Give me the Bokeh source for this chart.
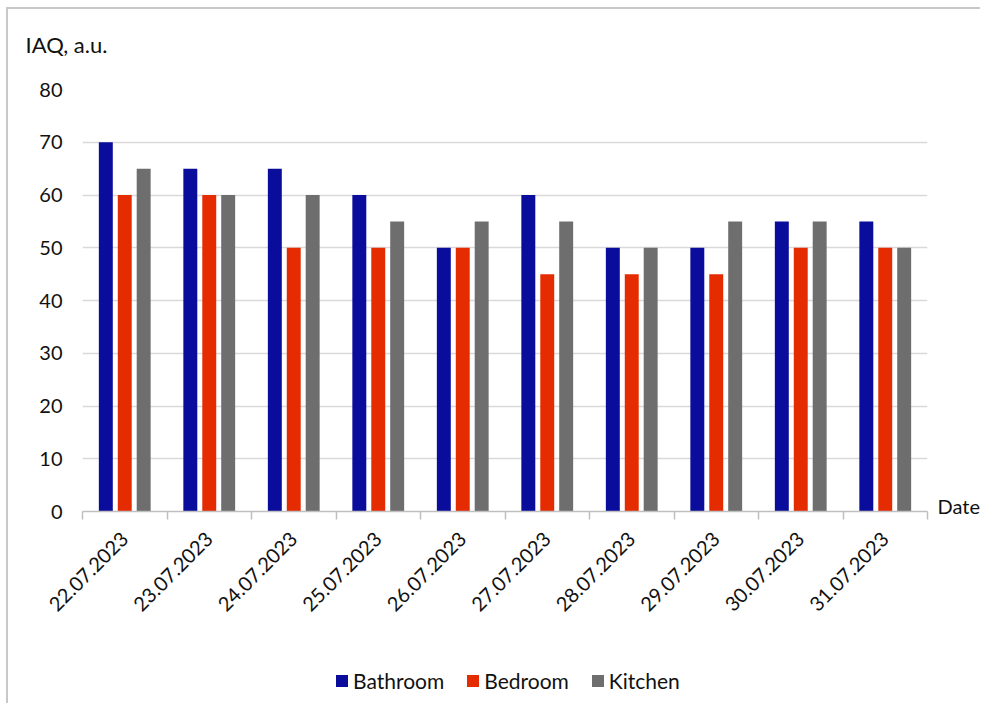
from bokeh.plotting import figure
from bokeh.layouts import column
from bokeh.models import (ColumnDataSource, Range1d, FixedTicker, LinearAxis,
                          Legend, LegendItem)
from bokeh.transform import dodge
from bokeh.embed import file_html
from bokeh.resources import INLINE

# Daily indoor air quality index per room
dates = ["22.07.2023", "23.07.2023", "24.07.2023", "25.07.2023", "26.07.2023",
         "27.07.2023", "28.07.2023", "29.07.2023", "30.07.2023", "31.07.2023"]
bathroom = [70, 65, 65, 60, 50, 60, 50, 50, 55, 55]
bedroom = [60, 60, 50, 50, 50, 45, 45, 45, 50, 50]
kitchen = [65, 60, 60, 55, 55, 55, 50, 55, 55, 50]
rooms = ["Bathroom", "Bedroom", "Kitchen"]
y_ticks = [0, 10, 20, 30, 40, 50, 60, 70, 80]
y_title = "IAQ, a.u."
x_title = "Date"

FONT = "Lato"
TEXT = "#111111"
COLORS = ["#0A0C9C", "#E52B00", "#6E6E6E"]
FIELDS = ["bathroom", "bedroom", "kitchen"]
OFFSETS = [-0.224, 0.0, 0.224]
BAR_W = 0.165
W = 974

centers = [i + 0.5 for i in range(len(dates))]
source = ColumnDataSource(dict(x=centers, bathroom=bathroom,
                               bedroom=bedroom, kitchen=kitchen))


def blank_strip(height, **kw):
    """A figure with no axes whose frame only hosts annotations."""
    f = figure(width=W, height=height, output_backend="svg",
               toolbar_location=None, x_axis_type=None, y_axis_type=None, **kw)
    f.outline_line_color = None
    f.background_fill_color = "white"
    f.border_fill_color = "white"
    return f


# header strip carrying the value-axis title
hd = blank_strip(64, title=y_title, x_range=Range1d(0, 1), y_range=Range1d(0, 1),
                 min_border_top=53, min_border_bottom=0,
                 min_border_left=0, min_border_right=0)
hd.title.align = "left"
hd.title.offset = -57
hd.title.standoff = 10
hd.title.text_font = FONT
hd.title.text_font_size = "22px"
hd.title.text_font_style = "normal"
hd.title.text_color = TEXT

# main chart
p = figure(width=W, height=576, output_backend="svg", toolbar_location=None,
           title=None, x_range=Range1d(0, len(dates)), y_range=Range1d(0, 80),
           x_axis_type=None, min_border_left=74, min_border_right=52,
           min_border_top=16, min_border_bottom=138)
p.outline_line_color = None
p.background_fill_color = "white"
p.border_fill_color = "white"

# y axis: labels only, light horizontal grid
p.yaxis.ticker = FixedTicker(ticks=y_ticks, minor_ticks=[])
p.yaxis.axis_line_color = None
p.yaxis.major_tick_line_color = None
p.yaxis.major_tick_out = 0
p.yaxis.major_tick_in = 0
p.yaxis.minor_tick_line_color = None
p.yaxis.major_label_standoff = 20
p.yaxis.major_label_text_font = FONT
p.yaxis.major_label_text_font_size = "20px"
p.yaxis.major_label_text_color = TEXT
p.ygrid.ticker = FixedTicker(ticks=y_ticks)
p.ygrid.grid_line_color = "#D9D9D9"
p.ygrid.grid_line_width = 1.5
p.xgrid.grid_line_color = None

# x axis: date labels at category centres, tick marks at category boundaries
xaxis = LinearAxis(ticker=FixedTicker(ticks=centers,
                                      minor_ticks=list(range(len(dates) + 1))))
xaxis.major_label_overrides = {c: d for c, d in zip(centers, dates)}
xaxis.major_label_orientation = 0.785398
xaxis.axis_line_color = "#BFBFBF"
xaxis.axis_line_width = 1.5
xaxis.major_tick_line_color = None
xaxis.major_tick_out = 0
xaxis.major_tick_in = 0
xaxis.minor_tick_line_color = "#BFBFBF"
xaxis.minor_tick_line_width = 1.5
xaxis.minor_tick_out = 8
xaxis.minor_tick_in = 0
xaxis.major_label_standoff = 16
xaxis.major_label_text_font = FONT
xaxis.major_label_text_font_size = "20px"
xaxis.major_label_text_color = TEXT
p.add_layout(xaxis, "below")

# category-axis title at the right end of the baseline
date_axis = LinearAxis(ticker=FixedTicker(ticks=[1], minor_ticks=[]))
date_axis.major_label_overrides = {1: x_title}
date_axis.axis_line_color = None
date_axis.major_tick_line_color = None
date_axis.major_tick_out = 0
date_axis.major_tick_in = 0
date_axis.minor_tick_line_color = None
date_axis.major_label_standoff = 10
date_axis.major_label_text_font = FONT
date_axis.major_label_text_font_size = "20px"
date_axis.major_label_text_color = TEXT
p.add_layout(date_axis, "right")

for field, off, color in zip(FIELDS, OFFSETS, COLORS):
    p.vbar(x=dodge("x", off, range=p.x_range), top=field, width=BAR_W,
           source=source, fill_color=color, line_color=None)

# legend strip underneath the chart; its swatch renderers share the bar data
# but lie far outside this strip's ranges, so only the legend shows
lg = blank_strip(56, x_range=Range1d(500, 501), y_range=Range1d(500, 501),
                 min_border=0)
swatches = [lg.vbar(x="x", top=field, width=BAR_W, source=source,
                    fill_color=color, line_color=None)
            for field, color in zip(FIELDS, COLORS)]
legend = Legend(items=[LegendItem(label=r, renderers=[s])
                       for r, s in zip(rooms, swatches)],
                orientation="horizontal", location=(252, 12),
                glyph_width=15, glyph_height=15, label_standoff=4, spacing=21,
                padding=0, margin=0, border_line_color=None,
                background_fill_alpha=0,
                label_text_font=FONT, label_text_font_size="21px",
                label_text_color=TEXT, label_height=20)
lg.add_layout(legend, "center")

page = column(hd, p, lg, spacing=0)
page.styles = {"position": "relative", "left": "8px", "top": "9px",
               "box-shadow": "-2px -2px 0 0 #C8C8C8"}

open("out.html", "w").write(file_html(page, INLINE))
